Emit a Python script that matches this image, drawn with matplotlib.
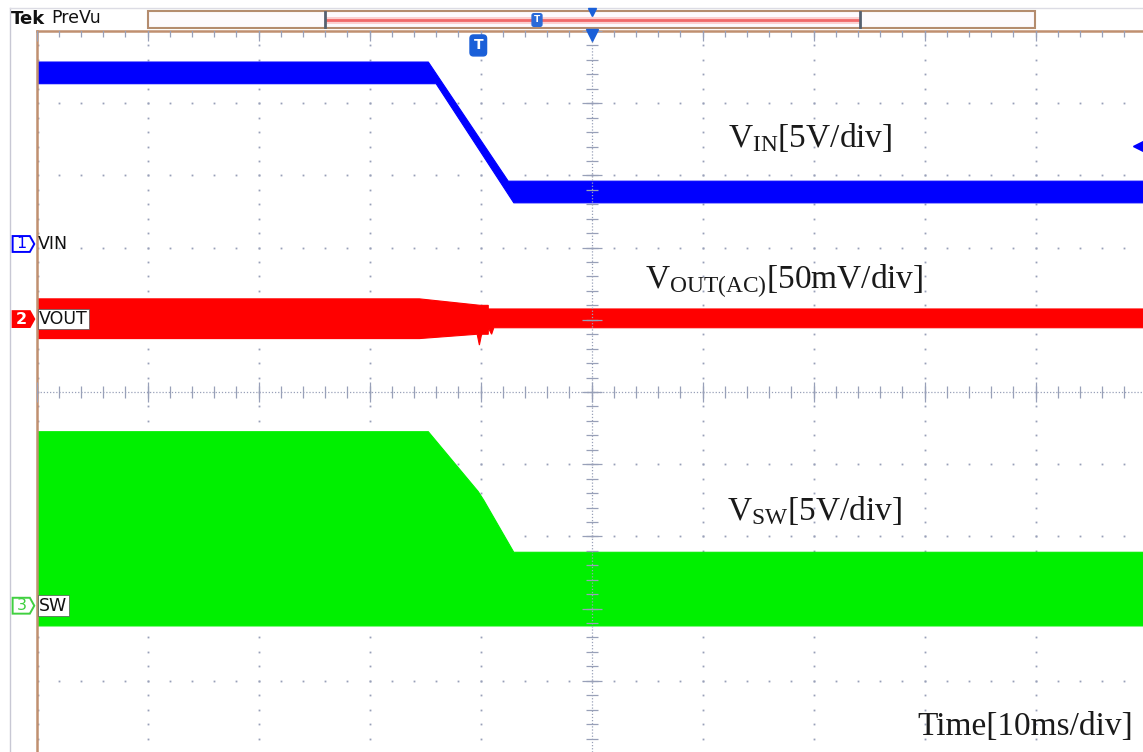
import numpy as np
import matplotlib.pyplot as plt
from matplotlib.patches import Polygon, Rectangle

plt.rcParams['mathtext.fontset'] = 'custom'
plt.rcParams['mathtext.rm'] = 'Liberation Serif'
plt.rcParams['mathtext.it'] = 'Liberation Serif:italic'

# Traces (x = time in divisions, y = screen divisions), upper and lower envelope
vin_top_t = [-5.0, -1.47, -0.75, 5.0]
vin_top_v = [4.57, 4.57, 2.92, 2.92]
vin_bot_t = [-5.0, -1.40, -0.70, 5.0]
vin_bot_v = [4.27, 4.27, 2.62, 2.62]

vout_top_t = [-5.0, -1.55, -1.0, -0.93, -0.93, 5.0]
vout_top_v = [1.29, 1.29, 1.20, 1.20, 1.15, 1.15]
vout_bot_t = [-5.0, -1.55, -1.03, -1.01, -0.99, -0.93, -0.93, -0.90, -0.88, 5.0]
vout_bot_v = [0.74, 0.74, 0.80, 0.65, 0.80, 0.80, 0.89, 0.80, 0.89, 0.89]

sw_top_t = [-5.0, -1.47, -1.02, -0.97, -0.70, 5.0]
sw_top_v = [-0.55, -0.55, -1.38, -1.50, -2.22, -2.22]
sw_bot_t = [-5.0, 5.0]
sw_bot_v = [-3.24, -3.24]

# channel reference offsets (div) and names
ch_offsets = [2.05, 1.01, -2.96]
ch_names = ['VIN', 'VOUT', 'SW']
ch_colors = ['#0000ff', '#ff0000', '#00f000']
trig_time = -1.02
trig_level = 3.41

labels = [r'$\mathrm{V_{IN}}$[5V/div]', r'$\mathrm{V_{OUT(AC)}}$[50mV/div]',
          r'$\mathrm{V_{SW}}$[5V/div]', 'Time[10ms/div]']
label_pos = [(1.23, 3.39), (0.48, 1.44), (1.22, -1.77), (2.94, -4.75)]

W, H = 1143, 752
fig = plt.figure(figsize=(W / 100, H / 100), dpi=100)
fig.patch.set_facecolor('white')

# header / frame overlay in pixel units
hx = fig.add_axes([0, 0, 1, 1])
hx.set_xlim(0, W)
hx.set_ylim(H, 0)
hx.axis('off')
hx.plot([10, 10], [8, H], color='#c8c8d4', lw=1)
hx.plot([10, W], [8, 8], color='#dcdce4', lw=1)
hx.text(11, 19, 'Tek', fontsize=13, fontweight='bold', va='center', color='#111')
hx.text(51, 18, 'PreVu', fontsize=12.5, va='center', color='#111')
hx.add_patch(Rectangle((148, 11), 887, 17, fc='#fdfafd', ec='#b48c6e', lw=1.5))
hx.plot([325, 860], [19.5, 19.5], color='#fbd0d0', lw=5, solid_capstyle='butt')
hx.plot([325, 860], [19.5, 19.5], color='#f06868', lw=2, solid_capstyle='butt')
hx.plot([325, 325], [12, 27], color='#556070', lw=2)
hx.plot([860, 860], [12, 27], color='#556070', lw=2)
hx.text(537, 20, 'T', fontsize=6.5, color='white', fontweight='bold', ha='center', va='center',
        bbox=dict(boxstyle='round,pad=0.2', fc='#2a6ad8', ec='#2a6ad8'))
hx.plot(592, 12, marker='v', ms=6, color='#1a5fd8', clip_on=False)

# graticule axes
cx, dx = 591.5, 111.0
cy, dy = 392.0, 72.2
ax = fig.add_axes([(cx - 5 * dx) / W, 0, 1 - (cx - 5 * dx) / W, (H - (cy - 5 * dy)) / H])
ax.set_xlim(-5, (W - cx) / dx)
ax.set_ylim((cy - H) / dy, 5)
ax.set_xticks([])
ax.set_yticks([])
for s in ['right', 'bottom']:
    ax.spines[s].set_visible(False)
for s in ['left', 'top']:
    ax.spines[s].set_color('#c09070')
    ax.spines[s].set_linewidth(1.8)

gridc = '#98a0b8'
minor = np.arange(-5, 5.001, 0.2)
for g in range(-4, 5):
    if g == 0:
        continue
    ax.plot(np.full_like(minor, g), minor, ls='none', marker='s', ms=1.3, mew=0, color=gridc, zorder=1)
    ax.plot(minor, np.full_like(minor, g), ls='none', marker='s', ms=1.3, mew=0, color=gridc, zorder=1)
ax.plot(np.full_like(minor, -4.985), minor, ls='none', marker='s', ms=1.3, mew=0, color=gridc, zorder=1)

# traces
def band(tt, tv, bt, bv, color):
    pts = list(zip(tt, tv)) + list(zip(bt, bv))[::-1]
    ax.add_patch(Polygon(pts, closed=True, fc=color, ec=color, lw=0.8, zorder=2))

band(vin_top_t, vin_top_v, vin_bot_t, vin_bot_v, ch_colors[0])
band(vout_top_t, vout_top_v, vout_bot_t, vout_bot_v, ch_colors[1])
band(sw_top_t, sw_top_v, sw_bot_t, sw_bot_v, ch_colors[2])

# center cross with ticks
ax.axvline(0, color=gridc, lw=0.9, ls=(0, (1, 1.5)), zorder=3)
ax.axhline(0, color=gridc, lw=0.9, ls=(0, (1, 1.5)), zorder=3)
major = np.arange(-5, 5.001, 1.0)
ax.plot(minor, np.zeros_like(minor), ls='none', marker='|', ms=8, mew=0.9, color=gridc, zorder=3)
ax.plot(major, np.zeros_like(major), ls='none', marker='|', ms=15, mew=0.9, color=gridc, zorder=3)
ax.plot(np.zeros_like(minor), minor, ls='none', marker='_', ms=8, mew=0.9, color=gridc, zorder=3)
ax.plot(np.zeros_like(major), major, ls='none', marker='_', ms=15, mew=0.9, color=gridc, zorder=3)
ax.plot(minor, np.full_like(minor, 5.0), ls='none', marker='|', ms=8, mew=0.9, color=gridc, zorder=3)
ax.plot(major, np.full_like(major, 5.0), ls='none', marker='|', ms=15, mew=0.9, color=gridc, zorder=3)

# trigger markers
ax.text(trig_time, 4.80, 'T', fontsize=10, color='white', fontweight='bold', ha='center', va='center',
        bbox=dict(boxstyle='round,pad=0.25', fc='#1a5fd8', ec='#1a5fd8'), zorder=5)
ax.plot(0, 4.95, marker='v', ms=9, color='#1a5fd8', zorder=5, clip_on=False)
ax.plot(4.93, trig_level, marker='<', ms=8, color='#0000ff', zorder=5)

# channel markers
for i, (off, name, col) in enumerate(zip(ch_offsets, ch_names, ch_colors)):
    x0, x1, xt, h = -5.215, -5.06, -5.02, 0.11
    filled = i == 1
    edge = col if i != 2 else '#40d040'
    poly = Polygon([(x0, off - h), (x1, off - h), (xt, off), (x1, off + h), (x0, off + h)],
                   closed=True, fc=col if filled else 'white',
                   ec=edge, lw=1.4, clip_on=False, zorder=6)
    ax.add_patch(poly)
    ax.text((x0 + x1) / 2 + 0.005, off, str(i + 1), fontsize=11.5, ha='center', va='center',
            color='white' if filled else edge, clip_on=False,
            fontweight='bold' if filled else 'normal', zorder=7)
    if i == 0:
        ax.text(-4.985, off, name, fontsize=12.5, va='center', ha='left', color='#111', zorder=7)
    else:
        ax.text(-4.975, off, name, fontsize=12.5, va='center', ha='left', color='#111', zorder=7,
                bbox=dict(boxstyle='square,pad=0.08', fc='white', ec='#555', lw=0.5))

# annotations
for txt, (lx, ly) in zip(labels, label_pos):
    ax.text(lx, ly, txt, fontsize=24, family='Liberation Serif', color='#1a1a1a',
            ha='left', va='baseline', zorder=8)

fig.savefig('out.png', dpi=100)
